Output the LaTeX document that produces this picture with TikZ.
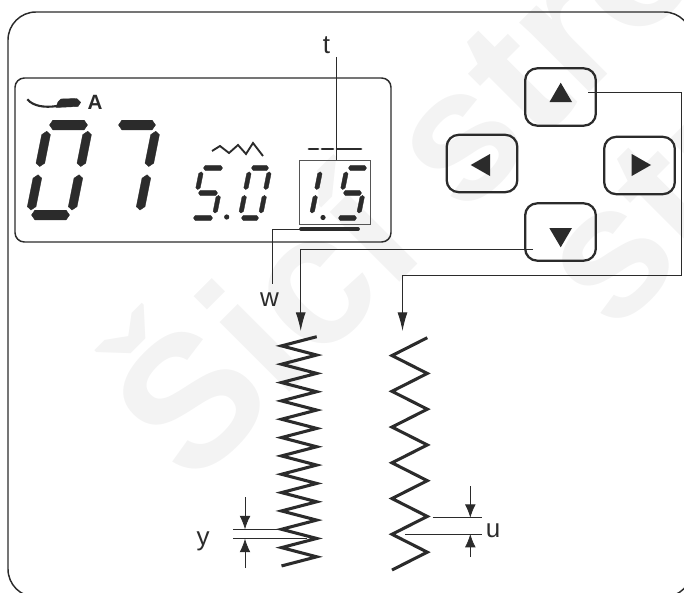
\documentclass[tikz,border=0pt]{standalone}
\usepackage{fontspec}
\usepackage{xcolor}
\setmainfont{Liberation Sans}
\usetikzlibrary{
	arrows.meta,
	calc,
	positioning
}
\definecolor{InkDark}{RGB}{43,43,43}
\definecolor{WaterGray}{RGB}{243,243,243}

% one segment of the display, polygon with short pointed ends
\newcommand{\hseg}[3]{\filldraw[segfill] (#1,#2) -- ++({\segt-0.2*\segh},-\segh) -- ++({(#3)-2*\segt},0) -- ++({\segt+0.2*\segh},\segh) -- ++({-\segt+0.2*\segh},\segh) -- ++({2*\segt-(#3)},0) -- cycle;}
\newcommand{\vseg}[3]{\filldraw[segfill] (#1,#2) -- ++(\segv,\segt) -- ++(0,{(#3)-2*\segt}) -- ++(-\segv,\segt) -- ++(-\segv,-\segt) -- ++(0,{2*\segt-(#3)}) -- cycle;}
\newcommand{\lcdA}{\hseg{1.5}{-\dh}{\dw-3}}
\newcommand{\lcdB}{\vseg{\dw}{-\dh+\dgap}{\dh/2-\dgap-3.5}}
\newcommand{\lcdC}{\vseg{\dw}{-\dh/2+\dgap-1.5}{\dh/2-\dgap-3.5}}
\newcommand{\lcdD}{\hseg{1.5}{0}{\dw-3}}
\newcommand{\lcdE}{\vseg{0}{-\dh/2+\dgap-1.5}{\dh/2-\dgap-3.5}}
\newcommand{\lcdF}{\vseg{0}{-\dh+\dgap}{\dh/2-\dgap-3.5}}
\newcommand{\lcdG}{\hseg{1.5}{-\dh/2}{\dw-3}}
% x, y of lower left corner, width, height, half stroke, segments
\newcommand{\lcddigit}[6]{
	\begin{scope}[shift={(#1,#2)},xslant=0.2]
		\def\dw{#3}\def\dh{#4}\def\segh{#5}
		\pgfmathsetmacro{\segt}{#5*0.7}
		\pgfmathsetmacro{\segv}{#5*0.9}
		\pgfmathsetmacro{\dgap}{#5+1.5}
		\foreach \s in {#6} {\csname lcd\s\endcsname}
	\end{scope}
}

\begin{document}
\begin{tikzpicture}[x=0.75pt, y=-0.75pt,
	segfill/.style={fill=InkDark, draw=InkDark, line width=0.3pt, line join=round},
	frameline/.style={draw=InkDark, line width=1.1pt},
	keybox/.style={draw=InkDark, line width=1.7pt, rounded corners=9pt, minimum width=53pt, minimum height=43pt, inner sep=0pt},
	conn/.style={draw=InkDark, line width=0.75pt},
	stitch/.style={draw=InkDark, line width=2.3pt},
	dimline/.style={draw=InkDark, line width=0.6pt},
	dimhead/.style={-{Latex[length=10pt,width=8pt]}},
	feedhead/.style={-{Latex[length=14pt,width=7.5pt]}},
	lab/.style={font=\fontsize{19.5}{21}\selectfont, text=InkDark, inner sep=0pt},
	watermark/.style={rotate=45, anchor=base west, text=WaterGray, font=\fontsize{140}{150}\bfseries\selectfont, inner sep=0pt}
	]
	\useasboundingbox (0,0) rectangle (684,592);
	\clip (0,0) rectangle (684,592);
	% watermark
	\node[watermark] (markone) at (192,490) {Šicí stroje};
	\node[watermark] (marktwo) at (613,336) {stroje};

	% frame and display
	\draw[frameline, rounded corners=21pt] (8,12) rectangle (692,597);
	\draw[frameline, rounded corners=7pt] (15,78) rectangle (391,242);

	% presser foot and letter
	\draw[InkDark, line width=1.6pt] (27.3,99.3) .. controls (33,106) and (44,108) .. (57,106);
	\filldraw[segfill] (56,107.5) -- (58,102) -- (61,99) -- (76.7,98.5) -- (80.7,102.3) -- (78,106.5) -- cycle;
	\node[lab, font=\fontsize{15.5}{17}\bfseries\selectfont] (footA) at (95,102.5) {A};

	% digits
	\lcddigit{30}{215}{41}{90}{4.8}{A,B,C,D,E,F}
	\lcddigit{99}{215}{40}{90}{4.8}{A,B,C}
	\lcddigit{192}{218}{22}{50}{2.4}{A,F,G,C,D}
	\lcddigit{240}{218}{20}{50}{2.4}{A,B,C,D,E,F}
	\lcddigit{291}{218}{20}{50}{2.4}{B,C}
	\lcddigit{337}{218}{21}{50}{2.4}{A,F,G,C,D}
	\fill[InkDark] (226.7,217) circle (2.6);
	\fill[InkDark] (323,217.5) circle (2.6);

	% small stitch sign
	\draw[InkDark, line width=1.4pt] (212,151) -- (220,146) -- (229,153) -- (238,145) -- (246,154) -- (253,143) -- (263,156);

	% marks round the right value
	\foreach \xa/\xb in {309/318, 322/333, 337/361}
	\draw[InkDark, line width=2.2pt, line cap=round] (\xa,149) -- (\xb,149);
	\draw[InkDark, line width=2.8pt, line cap=round] (301,229) -- (358,229);
	\node[draw=InkDark!80, line width=0.7pt, minimum width=53.5pt, minimum height=48pt, inner sep=0pt] (tbox) at (335,192) {};

	% keys
	\node[keybox] (keyup) at (560.5,97) {};
	\node[keybox] (keyleft) at (482,163.5) {};
	\node[keybox] (keyright) at (639.5,165.5) {};
	\node[keybox] (keydown) at (560.5,232) {};
	\fill[InkDark] (560.7,82.7) -- (572,102) -- (549.5,102) -- cycle;
	\fill[InkDark] (470.7,165) -- (490,154) -- (490,176) -- cycle;
	\fill[InkDark] (651,165) -- (631.7,154) -- (631.7,176) -- cycle;
	\fill[InkDark] (560.7,247.3) -- (549.3,228) -- (572,228) -- cycle;

	% labels
	\node[lab] (tlab) at (326.5,45) {t};
	\node[lab] (wlab) at (269.5,300) {w};
	\node[lab] (ylab) at (203,541) {y};
	\node[lab] (ulab) at (493,531) {u};

	% connectors
	\coordinate (tstart) at (336,57);
	\coordinate (wstart) at (301,229);
	\coordinate (wend) at (272.5,284);
	\coordinate (upstart) at (588,92);
	\coordinate (dnstart) at (533,249);
	\coordinate (upturn) at (681,275);
	\coordinate (feedleft) at (300.7,331);
	\coordinate (feedright) at (402.5,331);
	\draw[conn] (tstart) -- (tstart |- tbox.north);
	\draw[conn] (wstart) -| (wend);
	\draw[conn, feedhead] (dnstart) -| (feedleft);
	\draw[conn, feedhead] (upstart) -| (upturn) -| (feedright);

	% stitches
	\draw[stitch] (316.7,336.7) \foreach \k in {1,...,25} { -- ({316.7-35.2*mod(\k,2)},{336.7+9.17*\k}) };
	\draw[stitch] (427.3,337.7) \foreach \k in {1,...,13} { -- ({427.3-35.3*mod(\k,2)},{337.7+17.87*\k}) };

	% width marks left
	\coordinate (ya) at (245,497);
	\coordinate (yb) at (245,529.3);
	\coordinate (yc) at (245,568);
	\coordinate (yd) at (245,538.7);
	\draw[dimline] (233,529.3) -- (281,529.3);
	\draw[dimline] (233,538.7) -- (307,538.7);
	\draw[dimline, dimhead] (ya) -- (yb);
	\draw[dimline, dimhead] (yc) -- (yd);

	% width marks right
	\coordinate (ua) at (470.3,486);
	\coordinate (ub) at (470.3,517.7);
	\coordinate (uc) at (470.3,557);
	\coordinate (ud) at (470.3,534);
	\draw[dimline] (432.7,517.7) -- (481.7,517.7);
	\draw[dimline] (405,534) -- (481.7,534);
	\draw[dimline, dimhead] (ua) -- (ub);
	\draw[dimline, dimhead] (uc) -- (ud);
\end{tikzpicture}
\end{document}
